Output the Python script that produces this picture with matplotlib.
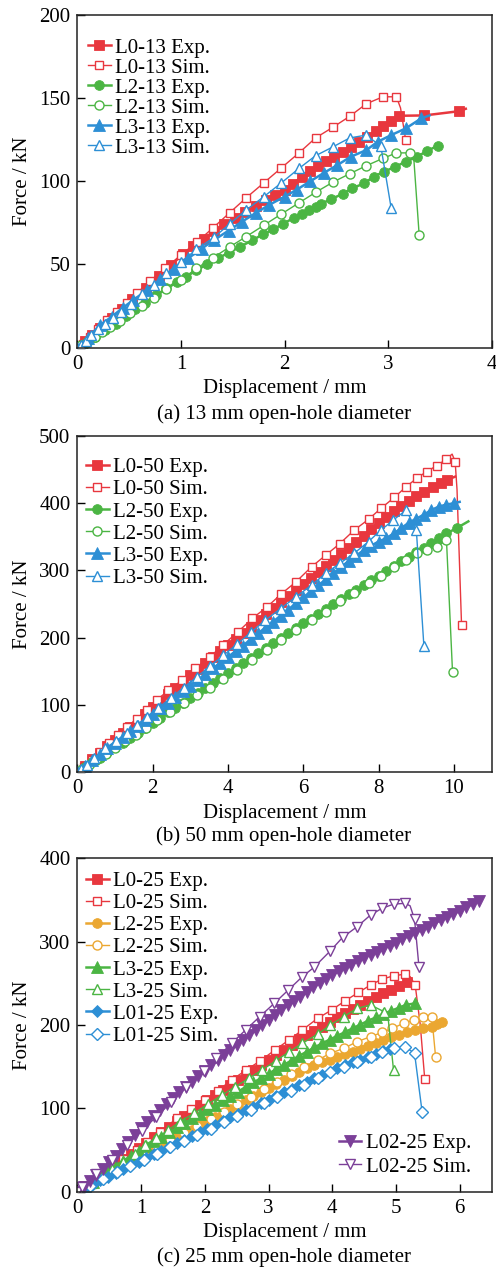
import matplotlib
matplotlib.use("Agg")
import matplotlib.pyplot as plt
from matplotlib.lines import Line2D

plt.rcParams["font.family"] = ["Liberation Serif", "DejaVu Serif"]
plt.rcParams["font.size"] = 15

RED = "#E8373E"
GREEN = "#4BB543"
BLUE = "#2D8FD5"
ORANGE = "#EBA731"
PURPLE = "#7B3F98"

# ---------------- (a) 13 mm open hole ----------------
L0_13_EXP_X = [0, 0.07, 0.14, 0.22, 0.33, 0.43, 0.53, 0.66, 0.79, 0.9, 1.02, 1.12, 1.22, 1.32, 1.42,
               1.52, 1.62, 1.72, 1.82, 1.91, 2.0, 2.08, 2.17, 2.25, 2.32, 2.4, 2.48, 2.56, 2.64, 2.72,
               2.8, 2.88, 2.95, 3.03, 3.11, 3.35, 3.68, 3.75]
L0_13_EXP_Y = [0, 3.8, 7.6, 12, 18, 23.5, 29, 36, 43, 49.5, 56, 61, 65.5, 70, 74,
               78, 81.5, 85, 88.5, 92, 95, 98.5, 102.7, 106, 109, 112, 114.7, 117.7, 120.7, 123.7,
               126.7, 130, 133, 136, 139.3, 139.5, 142, 143.5]
L0_13_SIM_X = [0, 0.05, 0.12, 0.2, 0.29, 0.38, 0.48, 0.58, 0.7, 0.85, 1.0, 1.16, 1.31, 1.47, 1.63,
               1.8, 1.97, 2.14, 2.3, 2.47, 2.63, 2.79, 2.95, 3.08, 3.12, 3.17]
L0_13_SIM_Y = [0, 2.5, 6.5, 11, 16.5, 21.5, 27, 33, 40, 47.7, 55.7, 63.7, 72, 81, 90,
               99, 108, 117, 126, 132.5, 139, 146.5, 150.7, 150.7, 144, 124.7]
L2_13_EXP_X = [0, 0.08, 0.17, 0.27, 0.37, 0.47, 0.56, 0.65, 0.76, 0.86, 0.96, 1.05, 1.15, 1.25, 1.36,
               1.46, 1.57, 1.69, 1.79, 1.89, 1.99, 2.09, 2.17, 2.24, 2.3, 2.35, 2.45, 2.56, 2.65, 2.77,
               2.86, 2.96, 3.07, 3.17, 3.28, 3.38, 3.48]
L2_13_EXP_Y = [0, 3, 6.5, 10.5, 14.5, 19, 23, 27, 31.5, 35.6, 39.5, 42.6, 46.5, 50, 53.8,
               57, 60.5, 64.6, 68, 71, 74.5, 78, 80.5, 82.7, 84.5, 86.3, 89.3, 92.3, 95.7, 98.7,
               102.7, 105.7, 108.7, 111.7, 114.7, 118.3, 121.3]
L2_13_SIM_X = [0, 0.04, 0.1, 0.17, 0.24, 0.32, 0.41, 0.51, 0.62, 0.74, 0.86, 1.0, 1.15, 1.31, 1.47,
               1.63, 1.8, 1.97, 2.14, 2.3, 2.47, 2.63, 2.79, 2.95, 3.08, 3.21, 3.25, 3.3]
L2_13_SIM_Y = [0, 1.5, 3.8, 6.5, 9.6, 12.5, 16, 20.6, 25, 30, 35, 40.6, 47.6, 54, 60.5,
               66.7, 73.5, 80.3, 87, 93.3, 99.5, 104.5, 109.3, 113.7, 117, 117, 112, 67.7]
L3_13_EXP_X = [0, 0.1, 0.22, 0.33, 0.44, 0.54, 0.67, 0.8, 0.93, 1.07, 1.2, 1.32, 1.46, 1.59,
               1.72, 1.85, 2.0, 2.12, 2.25, 2.38, 2.51, 2.64, 2.79, 2.9, 3.03, 3.17, 3.32, 3.4]
L3_13_EXP_Y = [0, 6, 13.6, 18.5, 24, 28.6, 34.5, 41, 47.3, 53.7, 59.5, 64.7, 70.3, 75.7,
               80.8, 85.7, 90.7, 95, 100, 105, 109.7, 114.7, 118.7, 123.7, 127.7, 131.7, 137.7, 139.5]
L3_13_SIM_X = [0, 0.04, 0.08, 0.13, 0.2, 0.27, 0.34, 0.42, 0.52, 0.62, 0.74, 0.86, 1.0, 1.15,
               1.32, 1.47, 1.63, 1.8, 1.97, 2.14, 2.3, 2.47, 2.63, 2.79, 2.93, 3.03]
L3_13_SIM_Y = [0, 1.6, 4, 7.6, 11, 14.5, 18, 21.6, 26.5, 32, 37.5, 44.6, 51.5, 59,
               66.3, 74.3, 82.7, 90.7, 99, 107.7, 115.3, 120.7, 126, 127.7, 121, 83.7]

# ---------------- (b) 50 mm open hole ----------------
L0_50_EXP_X = [0, 0.2, 0.4, 0.6, 0.8, 1.0, 1.2, 1.4, 1.6, 1.8, 2.0, 2.2, 2.4, 2.6, 2.8, 3.0, 3.2,
               3.4, 3.6, 3.8, 4.0, 4.2, 4.4, 4.6, 4.8, 5.0, 5.2, 5.4, 5.6, 5.8, 6.0, 6.2, 6.4, 6.6,
               6.8, 7.0, 7.2, 7.4, 7.6, 7.8, 8.0, 8.2, 8.4, 8.6, 8.8, 9.0, 9.2, 9.45, 9.65, 9.81, 10.03]
L0_50_EXP_Y = [0, 9.7, 19.4, 29, 38.7, 48.4, 58, 67.8, 77.5, 87.2, 97, 106.5, 116, 125.5, 135, 144, 153,
               162, 171, 180, 189, 198, 207, 216.5, 226, 235, 244, 253, 262, 271, 280, 289, 298, 307,
               316, 325, 334, 343, 352, 361, 370, 379, 388, 396, 404, 411, 417, 424, 430, 434.6, 439.5]
L0_50_SIM_X = [0, 0.17, 0.38, 0.6, 0.83, 1.07, 1.32, 1.58, 1.85, 2.11, 2.42, 2.78, 3.13, 3.51, 3.88,
               4.27, 4.65, 5.04, 5.41, 5.81, 6.22, 6.6, 6.97, 7.35, 7.73, 8.06, 8.42, 8.73, 9.01, 9.27,
               9.55, 9.8, 9.95, 10.03, 10.08, 10.2]
L0_50_SIM_Y = [0, 8.3, 19, 30.5, 43, 55, 67.5, 80, 92.6, 107.5, 122, 137, 154.6, 171, 190,
               209, 229, 246, 265, 283.4, 305.6, 323, 340, 360, 376, 392.4, 408.8, 424.6, 437, 447,
               456, 465.7, 473, 462, 420, 219]
L2_50_EXP_X = [0, 0.2, 0.4, 0.6, 0.8, 1.0, 1.2, 1.4, 1.6, 1.8, 2.0, 2.2, 2.4, 2.6, 2.8, 3.0, 3.2,
               3.4, 3.6, 3.8, 4.0, 4.2, 4.4, 4.6, 4.8, 5.0, 5.2, 5.4, 5.6, 5.8, 6.0, 6.2, 6.4, 6.6,
               6.8, 7.0, 7.2, 7.4, 7.6, 7.8, 8.0, 8.2, 8.4, 8.6, 8.8, 9.0, 9.2, 9.4, 9.6, 9.8, 10.07, 10.38]
L2_50_EXP_Y = [0, 7.5, 15, 22, 29.5, 37, 44, 51.5, 59, 66.5, 74, 81.5, 89, 96, 103.5, 111, 118,
               125.5, 133, 140.5, 148, 155, 162.5, 170, 177, 185, 192, 199, 206.5, 214, 221.5, 228.5, 236, 243,
               250.5, 257.5, 264.5, 271.5, 278.5, 285.5, 292.5, 299.5, 306.5, 313.5, 320.5, 327, 334, 341, 348, 355, 363, 373]
L2_50_SIM_X = [0, 0.12, 0.3, 0.5, 0.75, 1.0, 1.27, 1.55, 1.83, 2.11, 2.46, 2.82, 3.18, 3.53, 3.88,
               4.24, 4.64, 5.04, 5.41, 5.81, 6.22, 6.6, 6.97, 7.35, 7.73, 8.06, 8.42, 8.73, 9.01, 9.28,
               9.54, 9.8, 9.96]
L2_50_SIM_Y = [0, 4.3, 11, 18, 27, 36, 46, 56, 66.5, 77.7, 90, 102.5, 114.5, 126, 139,
               152.6, 167, 182, 196, 211, 226.4, 238.7, 254, 267, 281, 292.5, 305.6, 315.6, 325.6, 331,
               335.4, 345, 149.5]
L3_50_EXP_X = [0, 0.2, 0.4, 0.6, 0.8, 1.0, 1.2, 1.4, 1.6, 1.8, 2.0, 2.2, 2.4, 2.6, 2.8, 3.0, 3.2,
               3.4, 3.6, 3.8, 4.0, 4.2, 4.4, 4.6, 4.8, 5.0, 5.2, 5.4, 5.6, 5.8, 6.0, 6.2, 6.4, 6.6,
               6.8, 7.0, 7.2, 7.4, 7.6, 7.8, 8.0, 8.2, 8.4, 8.6, 8.8, 9.0, 9.2, 9.4, 9.6, 9.8, 10.0, 10.15]
L3_50_EXP_Y = [0, 9, 18, 27, 35.5, 44, 52.5, 61, 69.5, 78, 86.5, 95, 103.5, 112, 120.5, 129, 137.5,
               146, 154.5, 163, 171.5, 180, 188.5, 197.5, 206.5, 215.5, 224, 233, 242, 251, 260, 269, 278, 287,
               296, 305, 314, 322, 330, 337, 343, 348, 355, 363, 371, 377, 383, 390, 395, 398, 400, 402]
L3_50_SIM_X = [0, 0.1, 0.25, 0.45, 0.74, 1.03, 1.32, 1.58, 1.85, 2.15, 2.5, 2.82, 3.18, 3.53, 3.88,
               4.25, 4.62, 4.99, 5.4, 5.81, 6.22, 6.6, 6.97, 7.35, 7.73, 8.06, 8.39, 8.73, 9.0, 9.2]
L3_50_SIM_Y = [0, 4.5, 11.5, 21, 35.7, 47, 58, 70.5, 82.7, 96, 111, 126, 142, 158, 174,
               191, 208.5, 226, 243.5, 261, 278.4, 296, 310.7, 325.6, 343, 360, 375, 390, 360, 188]

# ---------------- (c) 25 mm open hole ----------------
L0_25_EXP_X = [0, 0.12, 0.24, 0.36, 0.48, 0.6, 0.72, 0.84, 0.96, 1.08, 1.2, 1.32, 1.44, 1.56, 1.68,
               1.8, 1.92, 2.04, 2.16, 2.28, 2.4, 2.52, 2.64, 2.76, 2.88, 3.0, 3.12, 3.24, 3.36, 3.48,
               3.6, 3.72, 3.84, 3.96, 4.08, 4.2, 4.32, 4.44, 4.56, 4.68, 4.8, 4.92, 5.04, 5.17, 5.25, 5.3]
L0_25_EXP_Y = [0, 6.5, 13, 19.5, 26, 32.5, 39, 45.5, 52, 58.5, 65, 71.5, 78, 84.5, 91,
               97.5, 104, 110.5, 116.5, 122.5, 128.5, 134.5, 140.5, 146.5, 152.5, 158, 164, 170, 176, 183,
               188, 193, 198, 204, 209, 214, 219, 224, 229, 234, 238.5, 242, 247, 252, 252, 250]
L0_25_SIM_X = [0, 0.1, 0.25, 0.4, 0.55, 0.72, 0.93, 1.1, 1.3, 1.56, 1.78, 2.0, 2.2, 2.42, 2.65,
               2.87, 3.1, 3.32, 3.53, 3.77, 3.99, 4.2, 4.41, 4.6, 4.78, 4.96, 5.14, 5.22, 5.3, 5.38, 5.45]
L0_25_SIM_Y = [0, 5, 13, 21, 29.5, 39, 50, 60, 72, 88, 99, 110, 121, 134, 146,
               157, 170, 182, 194, 208, 218, 229, 239, 248, 255, 259, 261, 258, 248, 200, 135]
L2_25_EXP_X = [0, 0.12, 0.24, 0.36, 0.48, 0.6, 0.72, 0.84, 0.96, 1.08, 1.2, 1.32, 1.44, 1.56, 1.68,
               1.8, 1.92, 2.04, 2.16, 2.28, 2.4, 2.52, 2.64, 2.76, 2.88, 3.0, 3.12, 3.24, 3.36, 3.48,
               3.6, 3.72, 3.84, 3.96, 4.08, 4.2, 4.32, 4.44, 4.56, 4.68, 4.8, 4.92, 5.04, 5.17, 5.3,
               5.43, 5.56, 5.64, 5.72]
L2_25_EXP_Y = [0, 5, 10, 15, 20, 25, 30, 35, 40, 45, 50, 55, 60, 65, 70,
               74.5, 79.5, 84.5, 89.5, 94.5, 99.5, 104.5, 109.5, 114.5, 119.5, 124.5, 129, 134, 139, 144,
               148, 152, 155, 158, 162, 165, 168, 171.5, 175, 178.5, 182, 185, 188, 191.5, 194,
               196, 198, 201, 204]
L2_25_SIM_X = [0, 0.2, 0.41, 0.62, 0.83, 1.04, 1.25, 1.46, 1.67, 1.88, 2.09, 2.3, 2.51, 2.72, 2.93,
               3.14, 3.35, 3.56, 3.77, 3.97, 4.18, 4.39, 4.6, 4.78, 4.94, 5.12, 5.28, 5.43, 5.56, 5.62]
L2_25_SIM_Y = [0, 8.5, 17, 26, 35, 44, 52.5, 61.5, 70, 79, 87.5, 96, 105, 114, 123,
               132, 141, 150, 158, 166, 172, 180, 186, 191, 196, 202, 206, 210, 210, 162]
L3_25_EXP_X = [0, 0.12, 0.24, 0.36, 0.48, 0.6, 0.72, 0.84, 0.96, 1.08, 1.2, 1.32, 1.44, 1.56, 1.68,
               1.8, 1.92, 2.04, 2.16, 2.28, 2.4, 2.52, 2.64, 2.76, 2.88, 3.0, 3.12, 3.24, 3.36, 3.48,
               3.6, 3.72, 3.84, 3.96, 4.08, 4.2, 4.32, 4.44, 4.56, 4.68, 4.8, 4.92, 5.04, 5.15, 5.3]
L3_25_EXP_Y = [0, 6, 12, 18.5, 25, 31, 37, 43, 49, 55, 60.5, 66, 71.5, 77, 82.5,
               88, 93.5, 99, 104, 109.5, 115, 120, 125.5, 131, 136, 141.5, 147, 152, 157.5, 163,
               168, 173, 178, 182.5, 187, 191.5, 196, 200.5, 205, 209, 213, 217, 220.5, 224, 226]
L3_25_SIM_X = [0, 0.1, 0.22, 0.38, 0.55, 0.72, 0.9, 1.06, 1.24, 1.42, 1.61, 1.83, 2.05, 2.27, 2.48,
               2.69, 2.9, 3.11, 3.32, 3.53, 3.77, 3.97, 4.18, 4.39, 4.6, 4.81, 4.88, 4.96]
L3_25_SIM_Y = [0, 4.5, 10.5, 18.5, 27, 35.5, 45, 56, 64.5, 73.5, 84, 94, 105, 116, 126,
               136, 146, 157, 167.5, 178, 189, 200, 210, 220, 224, 216, 205, 146]
L01_25_EXP_X = [0, 0.12, 0.24, 0.36, 0.48, 0.6, 0.72, 0.84, 0.96, 1.08, 1.2, 1.32, 1.44, 1.56, 1.68,
                1.8, 1.92, 2.04, 2.16, 2.28, 2.4, 2.52, 2.64, 2.76, 2.88, 3.0, 3.12, 3.24, 3.36, 3.48,
                3.6, 3.72, 3.84, 3.96, 4.08, 4.2, 4.32, 4.44, 4.56, 4.68, 4.8, 4.9]
L01_25_EXP_Y = [0, 4.5, 9, 13.5, 18, 22.5, 27, 31.5, 36, 40.5, 45, 49, 53.5, 58, 62,
                66.5, 71, 75.5, 80, 84.5, 89, 93, 97.5, 102, 106, 110.5, 115, 119, 123.5, 128,
                132, 136, 140, 144, 148, 151.5, 155, 158.5, 162, 165.5, 168.5, 171]
L01_25_SIM_X = [0, 0.2, 0.41, 0.62, 0.83, 1.04, 1.25, 1.46, 1.67, 1.88, 2.09, 2.3, 2.51, 2.72,
                2.93, 3.14, 3.35, 3.56, 3.77, 3.97, 4.18, 4.39, 4.6, 4.78, 4.96, 5.14, 5.29, 5.41]
L01_25_SIM_Y = [0, 7, 15, 23, 30.5, 38, 45.5, 53, 60.5, 68, 75.5, 83, 90.5, 98,
                106, 113.5, 121, 128.5, 136, 143, 150, 156, 162, 167, 172, 174, 166, 95]
L02_25_EXP_X = [0, 0.1, 0.2, 0.3, 0.4, 0.5, 0.6, 0.7, 0.8, 0.9, 1.0, 1.1, 1.2, 1.3, 1.4, 1.5, 1.6,
                1.7, 1.8, 1.9, 2.0, 2.1, 2.2, 2.3, 2.4, 2.5, 2.6, 2.7, 2.8, 2.9, 3.0, 3.1, 3.2, 3.3,
                3.4, 3.5, 3.6, 3.7, 3.8, 3.9, 4.0, 4.1, 4.2, 4.3, 4.4, 4.5, 4.6, 4.7, 4.8, 4.9, 5.0,
                5.1, 5.2, 5.3, 5.4, 5.5, 5.6, 5.7, 5.8, 5.9, 6.0, 6.1, 6.2, 6.3]
L02_25_EXP_Y = [0, 6, 13, 20, 27.5, 35, 43, 51.5, 60, 68, 76, 83.5, 91, 98.5, 105.5, 112, 119,
                125.5, 132, 138.5, 145, 151.5, 157.5, 164, 170, 176, 182, 188, 194, 200, 206, 212, 218, 223.5,
                229, 234, 239.5, 245, 250, 255, 260, 264.5, 268.5, 272.5, 276.5, 280.5, 284.5, 288, 291.5, 295, 298.5,
                303, 307, 310.5, 314, 318, 322, 325.5, 329, 333, 337, 341, 345, 349]
L02_25_SIM_X = [0, 0.07, 0.3, 0.54, 0.78, 1.01, 1.24, 1.47, 1.71, 1.98, 2.18, 2.42, 2.64, 2.86,
                3.09, 3.31, 3.53, 3.71, 3.97, 4.16, 4.39, 4.6, 4.78, 4.96, 5.14, 5.22, 5.29, 5.36]
L02_25_SIM_Y = [0, 6, 21, 38, 56, 73, 90, 107, 125, 145, 160, 178, 194, 210,
                226, 242, 258, 269, 289, 305, 318, 332, 340, 345, 346, 343, 327, 269]


def curve(ax, x, y, color, marker, label, filled, ms=6.0, skip=()):
    """Draw one load-displacement curve and return a legend proxy."""
    keep = [i for i in range(len(x)) if i not in skip]
    if filled:
        style = dict(color=color, lw=1.8, marker=marker, ms=ms, mfc=color, mec=color, mew=0.6)
    else:
        style = dict(color=color, lw=1.0, marker=marker, ms=ms, mfc="white", mec=color, mew=1.0)
    ax.plot(x, y, markevery=keep, **style)
    return Line2D([], [], label=label, **style)


def style_axes(ax, xmax, xticks, ymax, yticks):
    ax.set_xlim(0, xmax)
    ax.set_ylim(0, ymax)
    ax.set_xticks(xticks)
    ax.set_yticks(yticks)
    ax.tick_params(direction="in", length=5.5, width=1.0, labelsize=15, pad=5,
                   top=False, right=False)
    for sp in ax.spines.values():
        sp.set_linewidth(1.1)
        sp.set_color("#222222")
    ax.set_xlabel("Displacement / mm", fontsize=15, labelpad=4)
    ax.set_ylabel("Force / kN", fontsize=15, labelpad=5)


def legend(ax, handles, anchor, loc="upper left", spacing=0.05):
    return ax.legend(handles=handles, loc=loc, bbox_to_anchor=anchor, frameon=False,
                     fontsize=15, handlelength=1.1, handletextpad=0.2, labelspacing=spacing,
                     borderaxespad=0, borderpad=0, numpoints=1)


fig = plt.figure(figsize=(4.96, 12.68), dpi=100)
ax_a = fig.add_axes([0.1559, 0.7258, 0.8354, 0.2626])
ax_b = fig.add_axes([0.1559, 0.3909, 0.8354, 0.2653])
ax_c = fig.add_axes([0.1559, 0.0602, 0.8354, 0.2629])

# (a)
h = [
    curve(ax_a, L0_13_EXP_X, L0_13_EXP_Y, RED, "s", "L0-13 Exp.", True, 6.5, skip=(37,)),
    curve(ax_a, L0_13_SIM_X, L0_13_SIM_Y, RED, "s", "L0-13 Sim.", False, 6.3, skip=(24,)),
    curve(ax_a, L2_13_EXP_X, L2_13_EXP_Y, GREEN, "o", "L2-13 Exp.", True, 7),
    curve(ax_a, L2_13_SIM_X, L2_13_SIM_Y, GREEN, "o", "L2-13 Sim.", False, 6.5, skip=(26,)),
    curve(ax_a, L3_13_EXP_X, L3_13_EXP_Y, BLUE, "^", "L3-13 Exp.", True, 8, skip=(27,)),
    curve(ax_a, L3_13_SIM_X, L3_13_SIM_Y, BLUE, "^", "L3-13 Sim.", False, 7.5),
]
style_axes(ax_a, 4, [0, 1, 2, 3, 4], 200, [0, 50, 100, 150, 200])
legend(ax_a, h, (0.025, 0.93), spacing=0.02)

# (b)
h = [
    curve(ax_b, L0_50_EXP_X, L0_50_EXP_Y, RED, "s", "L0-50 Exp.", True, 6.5, skip=(50,)),
    curve(ax_b, L0_50_SIM_X, L0_50_SIM_Y, RED, "s", "L0-50 Sim.", False, 6.3, skip=(32, 34)),
    curve(ax_b, L2_50_EXP_X, L2_50_EXP_Y, GREEN, "o", "L2-50 Exp.", True, 7, skip=(51,)),
    curve(ax_b, L2_50_SIM_X, L2_50_SIM_Y, GREEN, "o", "L2-50 Sim.", False, 6.5),
    curve(ax_b, L3_50_EXP_X, L3_50_EXP_Y, BLUE, "^", "L3-50 Exp.", True, 8, skip=(51,)),
    curve(ax_b, L3_50_SIM_X, L3_50_SIM_Y, BLUE, "^", "L3-50 Sim.", False, 7.5),
]
style_axes(ax_b, 11, [0, 2, 4, 6, 8, 10], 500, [0, 100, 200, 300, 400, 500])
legend(ax_b, h, (0.02, 0.935), spacing=0.12)

# (c)
h = [
    curve(ax_c, L0_25_EXP_X, L0_25_EXP_Y, RED, "s", "L0-25 Exp.", True, 6.5, skip=(44, 45)),
    curve(ax_c, L0_25_SIM_X, L0_25_SIM_Y, RED, "s", "L0-25 Sim.", False, 6.3, skip=(27, 29)),
    curve(ax_c, L2_25_EXP_X, L2_25_EXP_Y, ORANGE, "o", "L2-25 Exp.", True, 7),
    curve(ax_c, L2_25_SIM_X, L2_25_SIM_Y, ORANGE, "o", "L2-25 Sim.", False, 6.5),
    curve(ax_c, L3_25_EXP_X, L3_25_EXP_Y, GREEN, "^", "L3-25 Exp.", True, 8),
    curve(ax_c, L3_25_SIM_X, L3_25_SIM_Y, GREEN, "^", "L3-25 Sim.", False, 7.5, skip=(26,)),
    curve(ax_c, L01_25_EXP_X, L01_25_EXP_Y, BLUE, "D", "L01-25 Exp.", True, 6.3),
    curve(ax_c, L01_25_SIM_X, L01_25_SIM_Y, BLUE, "D", "L01-25 Sim.", False, 6.3),
]
h2 = [
    curve(ax_c, L02_25_EXP_X, L02_25_EXP_Y, PURPLE, "v", "L02-25 Exp.", True, 8),
    curve(ax_c, L02_25_SIM_X, L02_25_SIM_Y, PURPLE, "v", "L02-25 Sim.", False, 7.5, skip=(25,)),
]
style_axes(ax_c, 6.5, [0, 1, 2, 3, 4, 5, 6], 400, [0, 100, 200, 300, 400])
leg = legend(ax_c, h, (0.02, 0.96), spacing=0.12)
ax_c.add_artist(leg)
legend(ax_c, h2, (0.95, 0.045), loc="lower right", spacing=0.2)

for y_px, text in [(414, "(a) 13 mm open-hole diameter"),
                   (836, "(b) 50 mm open-hole diameter"),
                   (1257, "(c) 25 mm open-hole diameter")]:
    fig.text(0.572, 1 - y_px / 1268, text, ha="center", va="center", fontsize=15)

fig.savefig("out.png", dpi=100)
